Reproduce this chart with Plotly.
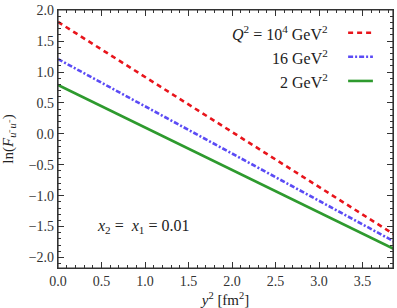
import plotly.graph_objects as go

y2 = [0.0, 1.0, 2.0, 3.0, 3.9]
ln_F_Q10000 = [1.81, 0.92, 0.03, -0.86, -1.66]
ln_F_Q16 = [1.21, 0.445, -0.32, -1.085, -1.77]
ln_F_Q2 = [0.79, 0.10, -0.58, -1.27, -1.89]
series_labels = ["<i>Q</i><sup>2</sup> = 10<sup>4</sup> GeV<sup>2</sup>", "16 GeV<sup>2</sup>", "2 GeV<sup>2</sup>"]
colors = ["#e8141b", "#5b4bf5", "#2e9a2e"]
dashes = ["5px,4px", "5px,2px,2px,2px", "solid"]

FONT = "'Liberation Serif', 'Times New Roman', serif"

fig = go.Figure()
for ys, c, d in zip([ln_F_Q10000, ln_F_Q16, ln_F_Q2], colors, dashes):
    fig.add_trace(go.Scatter(x=y2, y=ys, mode="lines", line=dict(color=c, width=2.6, dash=d),
                             showlegend=False, hoverinfo="skip"))

# custom legend (text right-aligned, sample on right)
leg_y = [0.912, 0.819, 0.725]
for lab, c, d, yy in zip(series_labels, colors, dashes, leg_y):
    fig.add_annotation(x=0.812, y=yy, xref="paper", yref="paper", text=lab, showarrow=False,
                       xanchor="right", yanchor="middle", font=dict(family=FONT, size=16, color="#222"))
    fig.add_shape(type="line", xref="paper", yref="paper", x0=0.866, x1=0.94, y0=yy, y1=yy,
                  line=dict(color=c, width=2.6, dash=d))

fig.add_annotation(x=0.98, y=-1.5, xref="x", yref="y", text="<i>x</i><sub>2</sub> =  <i>x</i><sub>1</sub> = 0.01",
                   showarrow=False, font=dict(family=FONT, size=16, color="#222"))

# plot frame
fig.add_shape(type="rect", xref="paper", yref="paper", x0=0, x1=1, y0=0, y1=1,
              line=dict(color="#333", width=1.2), fillcolor="rgba(0,0,0,0)", layer="above")

axis_common = dict(showgrid=False, zeroline=False, showline=True, linecolor="#333", linewidth=1.2,
                   mirror="ticks", ticks="inside", ticklen=6, tickwidth=1.2, tickcolor="#333",
                   automargin=False, layer="above traces",
                   tickfont=dict(family=FONT, size=14, color="#333"),
                   minor=dict(ticks="inside", ticklen=3, tickwidth=1, tickcolor="#333", dtick=0.1, showgrid=False))

fig.update_xaxes(range=[0, 3.85], dtick=0.5, tick0=0, tickformat=".1f",
                 title=dict(text="<i>y</i><sup>2</sup> [fm<sup>2</sup>]", font=dict(family=FONT, size=15, color="#222")),
                 **axis_common)
fig.update_yaxes(range=[-2.17, 2.003], dtick=0.5, tick0=0, tickformat=".1f",
                 title=dict(text="ln(<i>F</i><sub><i>u</i>⁻<i>u</i>⁻</sub>)", font=dict(family=FONT, size=15, color="#222")),
                 **axis_common)

fig.update_layout(width=397, height=308, margin=dict(l=58, r=4, t=10, b=40, autoexpand=False),
                  plot_bgcolor="white", paper_bgcolor="white", hovermode=False)

# remove the default 8px page margin so the figure fills the window exactly
fig.write_html("out.html", post_script="document.body.style.margin='0';",
               config={"displayModeBar": False})
